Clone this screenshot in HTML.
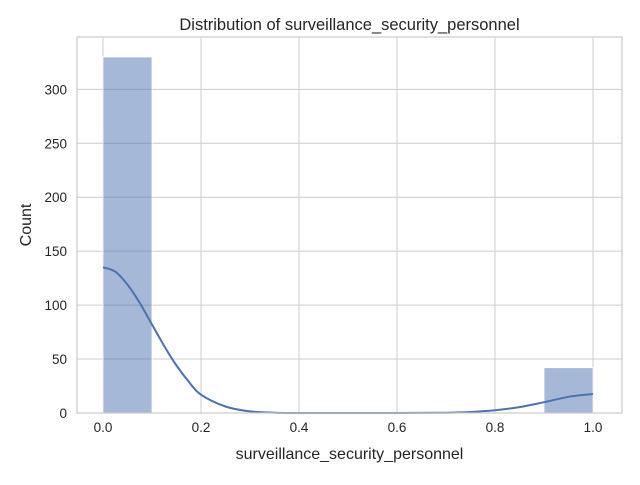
<!DOCTYPE html>
<html><head><meta charset="utf-8"><style>
body{margin:0;background:#fff;font-family:"Liberation Sans","DejaVu Sans",sans-serif;}
</style></head><body>
<svg width="640" height="480" xmlns="http://www.w3.org/2000/svg">
<g id="g"></g>
</svg>
<script>
const binEdges=[0,0.1,0.2,0.3,0.4,0.5,0.6,0.7,0.8,0.9,1.0];
const counts=[330,0,0,0,0,0,0,0,0,42];
const kdeX=[0,0.025,0.05,0.075,0.1,0.125,0.15,0.175,0.2,0.25,0.3,0.35,0.4,0.5,0.6,0.7,0.75,0.8,0.85,0.9,0.95,1.0];
const kdeY=[135,131,119,102,82,62,44,29,17,6,1.5,0.3,0,0,0,0.3,0.9,2.5,5.5,10,15,17.6];
const xTicks=[0,0.2,0.4,0.6,0.8,1.0];
const yTicks=[0,50,100,150,200,250,300];
const L=77,R=622,T=37,B=413;
const sx=v=>103+v*490;
const sy=v=>B-v*(B-T)/348.5;
const NS='http://www.w3.org/2000/svg';
const g=document.getElementById('g');
function mk(t,a,txt){const e=document.createElementNS(NS,t);for(const k in a)e.setAttribute(k,a[k]);if(txt!==undefined)e.textContent=txt;g.appendChild(e);return e;}
mk('rect',{x:L,y:T,width:R-L,height:B-T,fill:'#fff'});
xTicks.forEach(v=>{
 const l=mk('line',{x1:sx(v),x2:sx(v),y1:T,y2:B,stroke:'#cccccc','stroke-width':1});
 
 
 const t=mk('text',{x:sx(v),y:B+19,'text-anchor':'middle','font-size':13.5,fill:'#262626'},v.toFixed(1));
 
 
});
yTicks.forEach(v=>{
 const l=mk('line',{x1:L,x2:R,y1:sy(v),y2:sy(v),stroke:'#cccccc','stroke-width':1});
 
 
 const t=mk('text',{x:L-10,y:sy(v)+5,'text-anchor':'end','font-size':13.5,fill:'#262626'},v);
 
 
});
counts.forEach((c,i)=>{
 if(c<=0)return;
 const r=mk('rect',{x:sx(binEdges[i]),y:sy(c),width:sx(binEdges[i+1])-sx(binEdges[i]),height:sy(0)-sy(c),fill:'rgba(76,114,176,0.5)',stroke:'#fff','stroke-width':0.8});
 
 
});
const pts=kdeX.map((x,i)=>[sx(x),sy(kdeY[i])]);
let d='M'+pts[0][0].toFixed(1)+','+pts[0][1].toFixed(1);
for(let i=0;i<pts.length-1;i++){
 const p0=pts[Math.max(i-1,0)],p1=pts[i],p2=pts[i+1],p3=pts[Math.min(i+2,pts.length-1)];
 const c1=[p1[0]+(p2[0]-p0[0])/6,p1[1]+(p2[1]-p0[1])/6];
 const c2=[p2[0]-(p3[0]-p1[0])/6,p2[1]-(p3[1]-p1[1])/6];
 d+=' C'+c1.map(v=>v.toFixed(1))+' '+c2.map(v=>v.toFixed(1))+' '+p2.map(v=>v.toFixed(1));
}
const p=mk('path',{d:d,fill:'none',stroke:'#4c72b0','stroke-width':2,'stroke-linejoin':'round'});


const f=mk('rect',{x:L,y:T,width:R-L,height:B-T,fill:'none',stroke:'#cccccc','stroke-width':1.25});


const tt=mk('text',{x:(L+R)/2,y:30,'text-anchor':'middle','font-size':16.5,fill:'#262626'},'Distribution of surveillance_security_personnel');


const xl=mk('text',{x:(L+R)/2,y:459,'text-anchor':'middle','font-size':16,fill:'#262626'},'surveillance_security_personnel');


const yl=mk('text',{x:31,y:(T+B)/2,'text-anchor':'middle','font-size':16,fill:'#262626',transform:'rotate(-90 31 '+(T+B)/2+')'},'Count');


</script>
</body></html>
